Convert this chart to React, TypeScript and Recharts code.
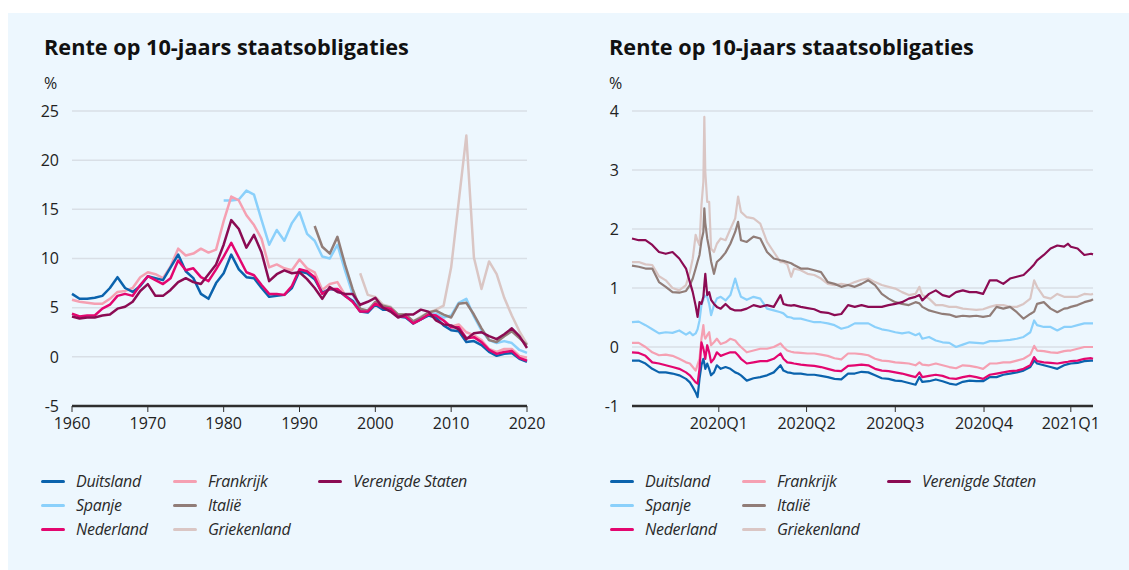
import { CartesianGrid, Line, LineChart, XAxis, YAxis } from "recharts";

const landen = ["Duitsland", "Spanje", "Nederland", "Frankrijk", "Italië", "Griekenland", "Verenigde Staten"];
const sleutels = ["de", "es", "nl", "fr", "it", "gr", "us"];
const kleuren = ["#0b63ad", "#8ad0fb", "#e3066f", "#f5a0b2", "#917d78", "#dac6c4", "#8b0b53"];
// volgorde waarin de lijnen getekend worden (laatste bovenop)
const tekenVolgorde = ["gr", "es", "it", "fr", "de", "nl", "us"];

const titel = "Rente op 10-jaars staatsobligaties";

// ---- links: jaargemiddelden 1960-2020 ----
const jaren = [
  1960, 1961, 1962, 1963, 1964, 1965, 1966, 1967, 1968, 1969,
  1970, 1971, 1972, 1973, 1974, 1975, 1976, 1977, 1978, 1979,
  1980, 1981, 1982, 1983, 1984, 1985, 1986, 1987, 1988, 1989,
  1990, 1991, 1992, 1993, 1994, 1995, 1996, 1997, 1998, 1999,
  2000, 2001, 2002, 2003, 2004, 2005, 2006, 2007, 2008, 2009,
  2010, 2011, 2012, 2013, 2014, 2015, 2016, 2017, 2018, 2019,
  2020,
];
const jaarTicks = [1960, 1970, 1980, 1990, 2000, 2010, 2020];

const duitslandJaar = [
  6.4, 5.9, 5.9, 6.0, 6.2, 7.0, 8.1, 7.0, 6.6, 7.2,
  8.2, 8.0, 7.8, 9.1, 10.4, 8.7, 8.0, 6.4, 5.9, 7.5,
  8.5, 10.4, 8.9, 8.1, 8.0, 7.0, 6.1, 6.2, 6.3, 7.0,
  8.7, 8.5, 7.9, 6.5, 6.9, 6.8, 6.2, 5.7, 4.6, 4.5,
  5.3, 4.8, 4.8, 4.1, 4.0, 3.4, 3.8, 4.2, 4.0, 3.2,
  2.7, 2.6, 1.5, 1.6, 1.2, 0.5, 0.1, 0.3, 0.4, -0.2,
  -0.5,
];
const spanjeStart = 1980;
const spanjeJaar = [
  15.9, 15.9, 16.0, 16.9, 16.5, 13.9, 11.4, 12.9, 11.8, 13.6,
  14.7, 12.5, 11.8, 10.2, 10.0, 11.4, 8.8, 6.4, 4.8, 4.7,
  5.4, 5.1, 5.0, 4.1, 4.1, 3.4, 3.8, 4.3, 4.4, 4.0,
  4.2, 5.5, 5.9, 4.1, 2.7, 1.7, 1.4, 1.6, 1.4, 0.7,
  0.4,
];
const nederlandJaar = [
  4.4, 4.1, 4.2, 4.2, 4.9, 5.3, 6.2, 6.4, 6.2, 7.3,
  8.2, 7.8, 7.4, 8.0, 9.8, 8.8, 9.0, 8.1, 7.7, 8.9,
  10.2, 11.6, 10.1, 8.6, 8.3, 7.3, 6.4, 6.4, 6.3, 7.2,
  8.9, 8.7, 8.1, 6.4, 6.9, 6.9, 6.2, 5.6, 4.6, 4.6,
  5.4, 5.0, 4.9, 4.1, 4.1, 3.4, 3.8, 4.3, 4.2, 3.7,
  3.0, 3.0, 1.9, 2.0, 1.5, 0.7, 0.3, 0.5, 0.6, -0.1,
  -0.4,
];
const frankrijkJaar = [
  5.8, 5.6, 5.5, 5.4, 5.4, 5.9, 6.6, 6.7, 7.0, 8.1,
  8.6, 8.4, 8.0, 9.2, 11.0, 10.3, 10.5, 11.0, 10.6, 10.9,
  13.8, 16.3, 15.9, 14.4, 13.4, 12.0, 9.1, 9.4, 9.0, 8.8,
  9.9, 9.0, 8.6, 6.8, 7.4, 7.6, 6.3, 5.6, 4.6, 4.6,
  5.4, 4.9, 4.9, 4.1, 4.1, 3.4, 3.8, 4.3, 4.2, 3.7,
  3.1, 3.3, 2.5, 2.2, 1.7, 0.8, 0.5, 0.8, 0.8, 0.1,
  -0.1,
];
const italieStart = 1992;
const italieJaar = [
  13.3, 11.2, 10.5, 12.2, 9.4, 6.9, 4.9, 4.7, 5.6, 5.2,
  5.0, 4.3, 4.3, 3.6, 4.0, 4.5, 4.7, 4.3, 4.0, 5.4,
  5.5, 4.3, 2.9, 1.7, 1.5, 2.1, 2.6, 1.9, 1.2,
];
const griekenlandStart = 1998;
const griekenlandJaar = [
  8.5, 6.3, 6.1, 5.3, 5.1, 4.3, 4.3, 3.6, 4.1, 4.5,
  4.8, 5.2, 9.1, 15.8, 22.5, 10.1, 6.9, 9.7, 8.4, 6.0,
  4.2, 2.6, 1.3,
];
const vsJaar = [
  4.1, 3.9, 4.0, 4.0, 4.2, 4.3, 4.9, 5.1, 5.6, 6.7,
  7.4, 6.2, 6.2, 6.8, 7.6, 8.0, 7.6, 7.4, 8.4, 9.4,
  11.4, 13.9, 13.0, 11.1, 12.4, 10.6, 7.7, 8.4, 8.8, 8.5,
  8.6, 7.9, 7.0, 5.9, 7.1, 6.6, 6.4, 6.4, 5.3, 5.6,
  6.0, 5.0, 4.6, 4.0, 4.3, 4.3, 4.8, 4.6, 3.7, 3.3,
  3.2, 2.8, 1.8, 2.4, 2.5, 2.1, 1.8, 2.3, 2.9, 2.1,
  0.9,
];

// ---- rechts: dagen sinds 1 jan 2020 ----
const dagen = [
  0, 7, 14, 21, 28, 35, 42, 49, 56, 60,
  63, 66, 68, 70, 72, 74, 75, 76, 78, 80,
  82, 85, 88, 92, 97, 102, 107, 110, 113, 119,
  126, 133, 140, 147, 154, 157, 161, 165, 168, 175,
  182, 189, 196, 203, 210, 217, 224, 231, 238, 245,
  252, 259, 266, 273, 280, 287, 294, 298, 301, 308,
  315, 322, 329, 336, 343, 350, 357, 364, 371, 378,
  385, 392, 399, 406, 413, 417, 420, 427, 434, 441,
  448, 452, 455, 462, 469, 476, 478,
];
const kwartaalDagen = [90, 181, 273, 365, 455];
const kwartaalLabels = ["2020Q1", "2020Q2", "2020Q3", "2020Q4", "2021Q1"];

const duitslandDag = [
  -0.23, -0.23, -0.28, -0.37, -0.43, -0.43, -0.45, -0.48, -0.54, -0.6,
  -0.68, -0.77, -0.85, -0.54, -0.31, -0.2, -0.28, -0.37, -0.28, -0.37,
  -0.48, -0.43, -0.31, -0.37, -0.34, -0.37, -0.43, -0.45, -0.48, -0.57,
  -0.53, -0.51, -0.48, -0.43, -0.31, -0.4, -0.43, -0.44, -0.45, -0.45,
  -0.47, -0.47, -0.49, -0.51, -0.54, -0.55, -0.45, -0.45, -0.42, -0.43,
  -0.48, -0.53, -0.54, -0.57, -0.58, -0.61, -0.64, -0.51, -0.59, -0.58,
  -0.55, -0.58, -0.62, -0.64, -0.59, -0.57, -0.58, -0.58, -0.51, -0.51,
  -0.47, -0.45, -0.43, -0.4, -0.34, -0.23, -0.28, -0.31, -0.34, -0.37,
  -0.31, -0.29, -0.28, -0.27, -0.24, -0.23, -0.23,
];
const spanjeDag = [
  0.42, 0.43, 0.37, 0.3, 0.23, 0.25, 0.24, 0.28, 0.21, 0.25,
  0.2, 0.23, 0.3, 0.45, 0.71, 0.8, 0.88, 0.86, 0.85, 0.73,
  0.54, 0.71, 0.82, 0.85, 0.79, 0.88, 1.16, 0.99, 0.85, 0.8,
  0.85, 0.82, 0.65, 0.62, 0.59, 0.57, 0.51, 0.5, 0.48, 0.48,
  0.45, 0.42, 0.42, 0.4, 0.37, 0.31, 0.34, 0.4, 0.4, 0.4,
  0.34, 0.3, 0.28, 0.25, 0.23, 0.25, 0.2, 0.23, 0.14, 0.17,
  0.11, 0.08, 0.07, 0.0, 0.04, 0.08, 0.07, 0.06, 0.1, 0.1,
  0.11, 0.12, 0.14, 0.17, 0.25, 0.45, 0.37, 0.34, 0.34, 0.28,
  0.34, 0.34, 0.34, 0.37, 0.4, 0.4, 0.4,
];
const nederlandDag = [
  -0.09, -0.1, -0.15, -0.26, -0.28, -0.31, -0.34, -0.37, -0.43, -0.48,
  -0.54, -0.6, -0.62, -0.37, 0.08, -0.03, -0.1, -0.2, 0.03, -0.09,
  -0.26, -0.2, -0.09, -0.15, -0.12, -0.09, -0.09, -0.14, -0.2, -0.28,
  -0.26, -0.24, -0.24, -0.2, -0.11, -0.2, -0.26, -0.27, -0.28, -0.3,
  -0.31, -0.32, -0.34, -0.37, -0.4, -0.41, -0.32, -0.31, -0.3, -0.31,
  -0.37, -0.4, -0.41, -0.43, -0.45, -0.48, -0.51, -0.43, -0.51, -0.49,
  -0.47, -0.49, -0.53, -0.54, -0.51, -0.49, -0.51, -0.54, -0.47, -0.45,
  -0.43, -0.41, -0.4, -0.37, -0.31, -0.17, -0.24, -0.26, -0.27, -0.28,
  -0.26, -0.25, -0.24, -0.23, -0.2, -0.19, -0.2,
];
const frankrijkDag = [
  0.07, 0.07, 0.0, -0.09, -0.14, -0.13, -0.15, -0.2, -0.26, -0.28,
  -0.34, -0.4, -0.3, -0.2, 0.14, 0.37, 0.2, 0.14, 0.2, 0.25,
  0.03, 0.08, 0.14, 0.05, 0.08, 0.14, 0.11, 0.05, 0.0, -0.09,
  -0.06, -0.03, -0.03, 0.0, 0.06, 0.0, -0.06, -0.08, -0.09, -0.1,
  -0.11, -0.11, -0.13, -0.15, -0.19, -0.21, -0.11, -0.11, -0.12, -0.14,
  -0.2, -0.23, -0.24, -0.26, -0.27, -0.28, -0.31, -0.26, -0.3, -0.31,
  -0.28, -0.31, -0.34, -0.36, -0.31, -0.32, -0.34, -0.37, -0.28, -0.28,
  -0.26, -0.26, -0.23, -0.2, -0.13, 0.02, -0.06, -0.07, -0.09, -0.1,
  -0.07, -0.06, -0.06, -0.03, 0.0, 0.0, 0.0,
];
const italieDag = [
  1.38, 1.36, 1.33, 1.33, 1.1, 1.02, 0.93, 0.92, 0.95, 1.05,
  1.16, 1.33, 1.45, 1.56, 1.8, 1.95, 2.35, 2.1, 1.84, 1.67,
  1.45, 1.24, 1.44, 1.5, 1.6, 1.75, 1.95, 2.12, 1.81, 1.78,
  1.87, 1.84, 1.61, 1.5, 1.47, 1.46, 1.44, 1.42, 1.39, 1.33,
  1.33, 1.3, 1.27, 1.1, 1.07, 1.02, 1.05, 1.02, 1.07, 1.13,
  1.05, 0.9, 0.82, 0.76, 0.73, 0.71, 0.76, 0.74, 0.68, 0.62,
  0.59, 0.56, 0.55, 0.51, 0.53, 0.52, 0.53, 0.51, 0.53, 0.68,
  0.65, 0.68, 0.59, 0.48, 0.56, 0.6, 0.73, 0.76, 0.65, 0.59,
  0.65, 0.66, 0.68, 0.71, 0.76, 0.79, 0.81,
];
const griekenlandDag = [
  1.44, 1.44, 1.4, 1.39, 1.2, 1.13, 1.0, 0.96, 1.05, 1.27,
  1.5, 1.9, 1.8, 1.73, 2.4, 2.8, 3.9, 2.97, 2.46, 2.46,
  1.67, 1.61, 1.75, 1.84, 1.81, 2.0, 2.18, 2.55, 2.29, 2.2,
  2.18, 2.09, 1.78, 1.61, 1.44, 1.44, 1.4, 1.19, 1.33, 1.3,
  1.24, 1.22, 1.16, 1.07, 1.05, 1.07, 1.05, 1.1, 1.14, 1.16,
  1.1, 1.05, 1.02, 0.99, 0.93, 0.88, 0.9, 1.02, 0.88, 0.82,
  0.71, 0.71, 0.68, 0.68, 0.65, 0.64, 0.63, 0.64, 0.68, 0.71,
  0.71, 0.68, 0.68, 0.73, 0.82, 1.13, 1.02, 0.85, 0.82, 0.9,
  0.85, 0.85, 0.85, 0.85, 0.9, 0.89, 0.9,
];
const vsDag = [
  1.84, 1.81, 1.81, 1.73, 1.61, 1.58, 1.61, 1.5, 1.33, 1.1,
  0.93, 0.7, 0.51, 0.76, 0.73, 0.85, 1.05, 1.24, 0.88, 0.93,
  0.8, 0.73, 0.68, 0.65, 0.73, 0.65, 0.62, 0.62, 0.62, 0.65,
  0.71, 0.68, 0.71, 0.68, 0.88, 0.73, 0.71, 0.7, 0.71, 0.68,
  0.66, 0.64, 0.59, 0.58, 0.54, 0.56, 0.71, 0.68, 0.71, 0.68,
  0.68, 0.68, 0.71, 0.73, 0.76, 0.82, 0.85, 0.88, 0.79, 0.9,
  0.96, 0.88, 0.85, 0.93, 0.96, 0.93, 0.93, 0.9, 1.13, 1.13,
  1.07, 1.16, 1.19, 1.22, 1.33, 1.4, 1.47, 1.56, 1.67, 1.72,
  1.7, 1.75, 1.7, 1.67, 1.56, 1.58, 1.57,
];

const uitReeks = (reeks: number[], start: number, jaar: number) =>
  jaar >= start ? reeks[jaar - start] : null;

const jaarData = jaren.map((jaar, i) => ({
  x: jaar,
  de: duitslandJaar[i],
  es: uitReeks(spanjeJaar, spanjeStart, jaar),
  nl: nederlandJaar[i],
  fr: frankrijkJaar[i],
  it: uitReeks(italieJaar, italieStart, jaar),
  gr: uitReeks(griekenlandJaar, griekenlandStart, jaar),
  us: vsJaar[i],
}));

const dagData = dagen.map((dag, i) => ({
  x: dag,
  de: duitslandDag[i],
  es: spanjeDag[i],
  nl: nederlandDag[i],
  fr: frankrijkDag[i],
  it: italieDag[i],
  gr: griekenlandDag[i],
  us: vsDag[i],
}));

const font = "'Open Sans', 'Noto Sans', sans-serif";
const tekstKleur = "#222";
const asKleur = "#2e2e2e";

function Grafiek({
  data,
  xDomein,
  xTicks,
  xFormat,
  yDomein,
  yTicks,
  lijnDikte,
  rechts,
}: {
  data: any[];
  xDomein: [number, number];
  xTicks: number[];
  xFormat?: (v: number) => string;
  yDomein: [number, number];
  yTicks: number[];
  lijnDikte: number;
  rechts: number;
}) {
  return (
    <LineChart
      width={560}
      height={440}
      data={data}
      margin={{ top: 98, right: rechts, bottom: 17, left: 0 }}
    >
      <CartesianGrid vertical={false} stroke="#d9dfe6" strokeWidth={1.5} />
      <XAxis
        dataKey="x"
        type="number"
        domain={xDomein}
        ticks={xTicks}
        interval={0}
        tickFormatter={xFormat}
        height={30}
        axisLine={{ stroke: asKleur, strokeWidth: 2.5 }}
        tickLine={{ stroke: asKleur, strokeWidth: 1 }}
        tickSize={6}
        tickMargin={6}
        tick={{ fill: tekstKleur, fontSize: 16 }}
      />
      <YAxis
        type="number"
        domain={yDomein}
        ticks={yTicks}
        interval={0}
        width={64}
        axisLine={false}
        tickLine={false}
        tickSize={0}
        tickMargin={13}
        tick={{ fill: tekstKleur, fontSize: 16 }}
      />
      {tekenVolgorde.map((k) => (
        <Line
          key={k}
          dataKey={k}
          type="linear"
          stroke={kleuren[sleutels.indexOf(k)]}
          strokeWidth={lijnDikte}
          strokeLinejoin="round"
          dot={false}
          activeDot={false}
          isAnimationActive={false}
        />
      ))}
    </LineChart>
  );
}

const legendaKolommen = [
  ["Duitsland", "Spanje", "Nederland"],
  ["Frankrijk", "Italië", "Griekenland"],
  ["Verenigde Staten"],
];
const kolomX = [0, 132, 277];

function Legenda({ left }: { left: number }) {
  return (
    <div style={{ position: "absolute", left, top: 456 }}>
      {legendaKolommen.map((kolom, c) =>
        kolom.map((naam, r) => (
          <div
            key={naam}
            style={{
              position: "absolute",
              left: kolomX[c],
              top: r * 24,
              height: 24,
              display: "flex",
              alignItems: "center",
              whiteSpace: "nowrap",
            }}
          >
            <span
              style={{
                display: "inline-block",
                width: 24,
                height: 3,
                borderRadius: 2,
                background: kleuren[landen.indexOf(naam)],
                marginRight: 11,
              }}
            />
            <span style={{ fontStyle: "italic", fontSize: 16, color: "#2a2a2a", letterSpacing: -0.3 }}>
              {naam}
            </span>
          </div>
        ))
      )}
    </div>
  );
}

function Kop({ left }: { left: number }) {
  return (
    <>
      <div
        style={{
          position: "absolute",
          left,
          top: 23,
          fontSize: 21.7,
          lineHeight: "22px",
          fontWeight: 700,
          color: "#111",
          whiteSpace: "nowrap",
        }}
      >
        {titel}
      </div>
      <div
        style={{
          position: "absolute",
          left,
          top: 62,
          fontSize: 16,
          lineHeight: "16px",
          color: tekstKleur,
        }}
      >
        %
      </div>
    </>
  );
}

export default function App() {
  return (
    <div
      style={{
        position: "absolute",
        left: 8,
        top: 13,
        width: 1121,
        height: 557,
        background: "#edf7fe",
        fontFamily: font,
        overflow: "hidden",
      }}
    >
      <Kop left={36} />
      <Kop left={601} />
      <div style={{ position: "absolute", left: 0, top: 0 }}>
        <Grafiek
          data={jaarData}
          xDomein={[1960, 2020]}
          xTicks={jaarTicks}
          yDomein={[-5, 25]}
          yTicks={[-5, 0, 5, 10, 15, 20, 25]}
          lijnDikte={2.5}
          rechts={41}
        />
      </div>
      <div style={{ position: "absolute", left: 560, top: 0 }}>
        <Grafiek
          data={dagData}
          xDomein={[0, 478]}
          xTicks={kwartaalDagen}
          xFormat={(v) => kwartaalLabels[kwartaalDagen.indexOf(v)]}
          yDomein={[-1, 4]}
          yTicks={[-1, 0, 1, 2, 3, 4]}
          lijnDikte={2.2}
          rechts={35}
        />
      </div>
      <Legenda left={33} />
      <Legenda left={602} />
    </div>
  );
}
